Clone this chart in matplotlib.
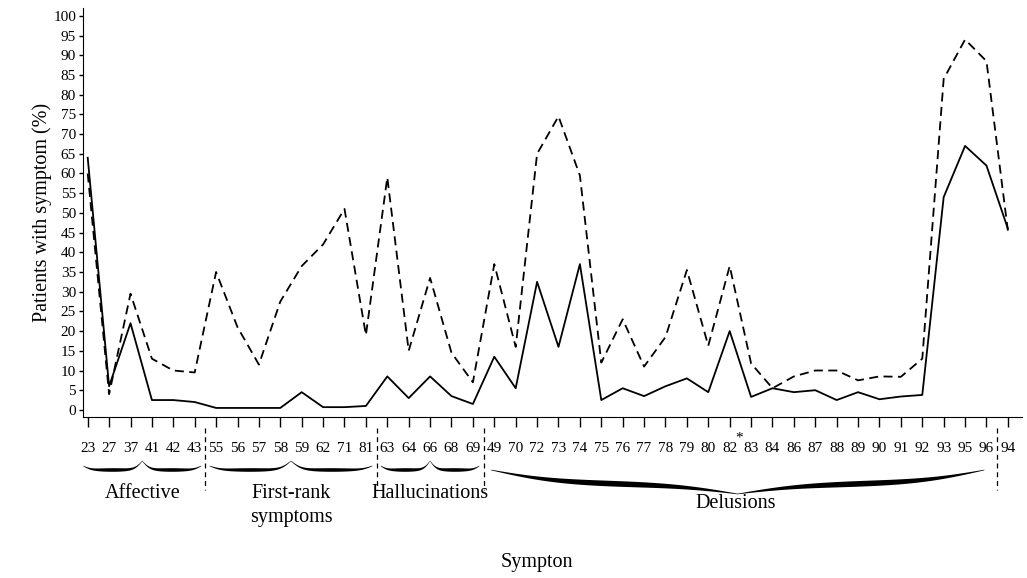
import numpy as np
import matplotlib
matplotlib.use("Agg")
import matplotlib.pyplot as plt
from matplotlib.transforms import blended_transform_factory

# symptom numbers along the x axis, in plotted order
symptoms = ["23", "27", "37", "41", "42", "43",
            "55", "56", "57", "58", "59", "62", "71", "81",
            "63", "64", "66", "68", "69",
            "49", "70", "72", "73", "74", "75", "76", "77", "78", "79", "80",
            "82", "83", "84", "86", "87", "88", "89", "90", "91", "92",
            "93", "95", "96",
            "94"]
starred = "82"

# percent of patients with symptom (solid and dashed series)
solid = [64, 6, 22, 2.5, 2.5, 2,
         0.5, 0.5, 0.5, 0.5, 4.5, 0.7, 0.7, 1,
         8.5, 3, 8.5, 3.5, 1.5,
         13.5, 5.5, 32.5, 16, 37, 2.5, 5.5, 3.5, 6, 8, 4.5,
         20, 3.3, 5.5, 4.5, 5, 2.5, 4.5, 2.7, 3.4, 3.8,
         54, 67, 62,
         46]
dashed = [60, 4, 29.5, 13, 10, 9.5,
          35, 21, 11.5, 27.5, 36.5, 42, 51, 19,
          59, 15, 33.5, 14.5, 7,
          37, 16, 65, 74.5, 59.5, 12, 23, 11, 18.5, 35.5, 16.3,
          36.5, 11.8, 5.5, 8.5, 10, 10, 7.5, 8.5, 8.4, 13,
          84, 94, 88.5,
          45.5]

groups = ["Affective", "First-rank\nsymptoms", "Hallucinations", "Delusions"]
group_sizes = [6, 8, 5, 24]

W, H = 1027, 578
plt.rcParams["font.family"] = ["Liberation Serif", "DejaVu Serif"]

fig = plt.figure(figsize=(W / 100, H / 100), dpi=100)
ax = fig.add_axes([83 / W, 1 - 417 / H, (1022 - 83) / W, (417 - 8) / H])

x = np.arange(len(symptoms))
ax.plot(x, solid, color="black", lw=1.3)
ax.plot(x, dashed, color="black", lw=1.3, ls=(0, (5, 3)))

ax.set_xlim(-0.22, 43.66)
ax.set_ylim(-1.8, 102)
ax.set_xticks(x)
ax.set_xticklabels(symptoms, fontsize=11)
ax.set_yticks(np.arange(0, 101, 5))
ax.tick_params(axis="y", labelsize=11, length=3, pad=2, width=1)
ax.tick_params(axis="x", length=7, pad=11, width=1)
for s in ["top", "right"]:
    ax.spines[s].set_visible(False)
ax.set_ylabel("Patients with symptom (%)", fontsize=14.5, labelpad=1)

# group separators and braces below the axis (y in figure pixels)
tr = blended_transform_factory(ax.transData, fig.transFigure)


def fy(p):
    return 1 - np.asarray(p) / H


# asterisk on the starred symptom label
ax.text(symptoms.index(starred) + 0.45, fy(438), "*", fontsize=11,
        ha="center", va="center", transform=tr)


def brace(x0, x1, y_end, y_mid, y_tip, thick, beta=30):
    t = np.linspace(0, 0.5, 200)
    sig = lambda z: 1 / (1 + np.exp(-z))
    p = (sig(beta * t) - 0.5) * 2
    q = sig(beta * (t - 0.5)) * 2
    yc = y_end + (y_mid - y_end) * p + (y_tip - y_mid) * q
    w = thick * np.sin(np.pi * t / 0.5) + 0.6
    yc = np.concatenate([yc, yc[::-1][1:]])
    w = np.concatenate([w, w[::-1][1:]])
    xs = x0 + (x1 - x0) * np.linspace(0, 1, len(yc))
    poly_x = np.concatenate([xs, xs[::-1]])
    poly_y = np.concatenate([yc - w / 2, (yc + w / 2)[::-1]])
    ax.fill(poly_x, fy(poly_y), color="black", transform=tr, clip_on=False, lw=0)


bounds = np.cumsum(group_sizes) - 0.5
for b in bounds:
    ax.plot([b, b], fy([428, 490]), color="black", lw=0.9, ls=(0, (4, 3)),
            transform=tr, clip_on=False)

starts = [-0.2] + list(bounds[:-1] + 0.2)
ends = list(bounds[:-1] - 0.2) + [41.9]
for g, a, b in zip(groups, starts, ends):
    mid = (a + b) / 2
    if g == "Delusions":
        brace(a + 0.15, b, 470, 484, 494, 5, beta=14)
        ax.text(mid, fy(504), g, fontsize=14.5, ha="center", va="center",
                transform=tr)
    else:
        brace(a, b, 466, 470, 461, 3, beta=30)
        ax.text(mid, fy(484), g, fontsize=14.5, ha="center", va="top",
                transform=tr, linespacing=1.35)

fig.text(537 / W, fy(563), "Sympton", fontsize=14.5, ha="center", va="center")

fig.savefig("out.png", dpi=100)
